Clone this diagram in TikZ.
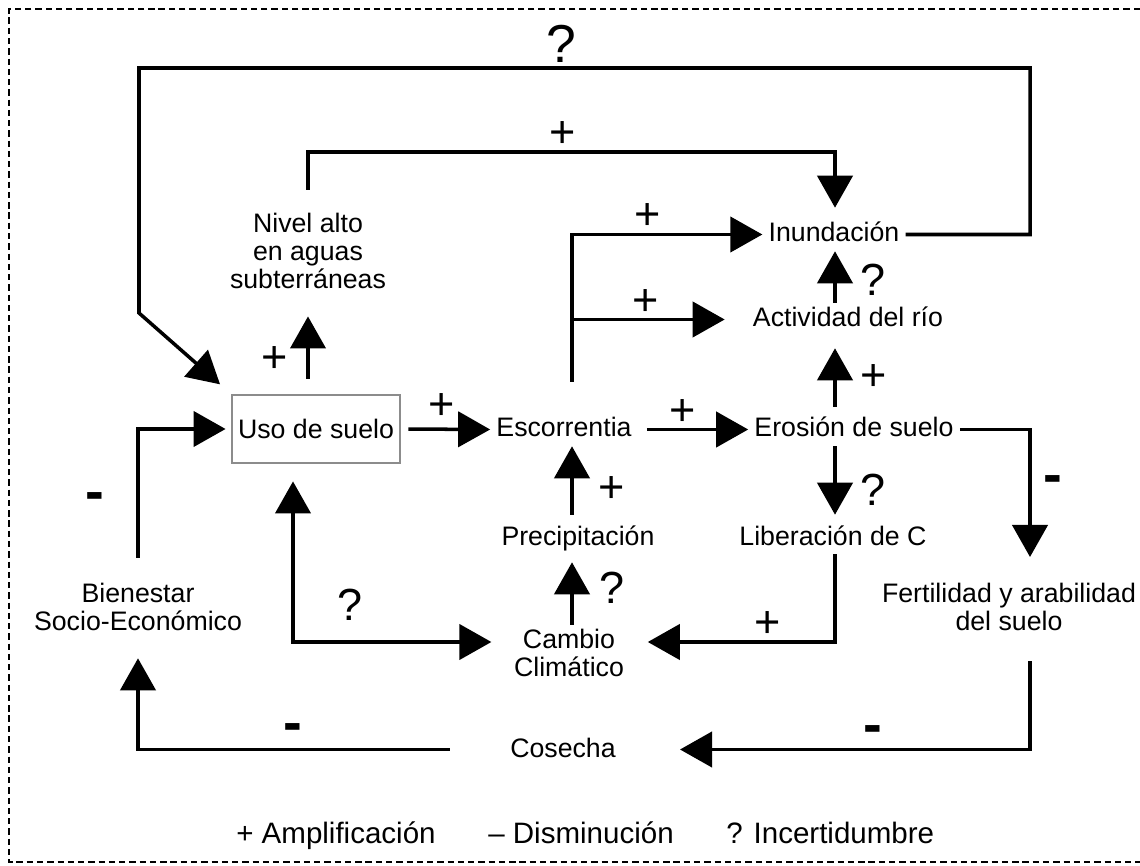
\documentclass[tikz,border=0pt]{standalone}
\usepackage{fontspec}
\setmainfont{Liberation Sans}
\usetikzlibrary{arrows.meta}

\begin{document}
\begin{tikzpicture}[x=0.025cm,y=-0.025cm,
  lbl/.style={font=\fontsize{19}{20}\selectfont, inner xsep=0.15cm, inner ysep=0pt, text height=0.6cm, text depth=0.225cm, anchor=base},
  lbltwo/.style={font=\fontsize{19}{20}\selectfont, align=center, inner xsep=0.15cm, inner ysep=0pt, anchor=north},
  sgn/.style={font=\fontsize{32}{32}\selectfont, inner sep=0pt},
  neg/.style={font=\fontsize{40}{40}\selectfont\bfseries, inner sep=0pt},
  legend/.style={font=\fontsize{21}{22}\selectfont, inner sep=0pt, anchor=base west},
  ln/.style={line width=2.5pt},
  arr/.style={ln, -{Triangle[length=0.8cm,width=0.88cm]}}]

\useasboundingbox (0,0) rectangle (1140,866);

% Dashed frame
\draw[line width=1.4pt, dash pattern=on 4.5pt off 2.8pt] (1140,9) -- (9,9) -- (9,862) -- (1140,862);

  % Define the positions of the variables
  \node[lbl] (inund) at (834,242) {Inundación};
  \node[lbl] (act) at (848,327) {Actividad del río};
  \node[lbl] (eros) at (854,437) {Erosión de suelo};
  \node[lbl] (lib) at (833,545) {Liberación de C};
  \node[lbl] (esc) at (564,437) {Escorrentia};
  \node[lbl] (prec) at (578,545) {Precipitación};
  \node[lbl] (cos) at (563,757) {Cosecha};
  \node[lbltwo] (nivel) at (308,213) {Nivel alto\\en aguas\\subterráneas};
  \node[lbltwo] (bien) at (138,583) {Bienestar\\Socio-Económico};
  \node[lbltwo] (cambio) at (569,629) {Cambio\\Climático};
  \node[lbltwo] (fert) at (1009,583) {Fertilidad y arabilidad\\del suelo};
  \node[draw=black!45, line width=2pt, minimum width=4.2cm, minimum height=1.7cm, inner sep=0pt,
        font=\fontsize{19}{20}\selectfont] (uso) at (316,429) {Uso de suelo};

  % Bends of the loops
  \coordinate (loopNE) at (1030,68);
  \coordinate (loopSW) at (139,313);
  \coordinate (topNE) at (835,152);
  \coordinate (brX) at (572,382);
  \coordinate (colX) at (835,0);
  \coordinate (climY) at (0,642);
  \coordinate (quesX) at (293,0);
  \coordinate (fertC) at (1030,756);

  % Draw the connectors
  \draw[arr, shorten >=0.35cm] (inund.east) -| (loopNE) -| (loopSW) -- (uso.north west);
  \draw[arr, shorten <=0.575cm] (nivel.north) |- (topNE) -- ([yshift=0.25cm]inund.north -| topNE);
  \draw[arr, shorten <=0.175cm] (uso.east) -- (esc.west);
  \draw[arr, shorten <=0.225cm] (esc.east) -- (eros.west);
  \draw[arr, shorten <=0.775cm] (esc.north -| brX) |- (inund.west);
  \draw[arr, shorten >=0.55cm] (brX |- act.west) -- (act.west);
  \draw[arr] (act.north -| colX) -- (inund.south -| colX);
  \draw[arr, shorten <=0.15cm, shorten >=0.3cm] (eros.north -| colX) -- (act.south -| colX);
  \draw[arr, shorten >=0.15cm] (eros.south -| colX) -- (lib.north -| colX);
  \draw[arr, shorten >=0.44cm] (lib.south -| colX) |- (cambio.east |- climY);
  \draw[arr, shorten >=0.65cm] (eros.east) -| (fert.north -| fertC);
  \draw[arr, shorten <=0.75cm, shorten >=1.45cm] (fert.south -| fertC) |- (cos.east);
  \draw[arr, shorten <=1.35cm, shorten >=0.675cm] (cos.west) -| (bien.south);
  \draw[arr, shorten <=0.625cm, shorten >=0.125cm] (bien.north) |- (uso.west);
  \draw[arr, shorten <=0.375cm, shorten >=0.675cm] (uso.north -| nivel.south) -- (nivel.south);
  \draw[ln, {Triangle[length=0.8cm,width=0.88cm]}-{Triangle[length=0.8cm,width=0.88cm]},
        shorten <=0.425cm, shorten >=0.41cm] (uso.south -| quesX) |- (cambio.west |- climY);
  \draw[arr, shorten <=0.15cm] (prec.north -| brX) -- (esc.south -| brX);
  \draw[arr, shorten <=0.1cm, shorten >=0.2cm] (cambio.north -| brX) -- (prec.south -| brX);

  % Signs on the connectors
  \foreach \px/\py [count=\i] in {563/135, 648/217, 646/303, 874/378, 683/413, 442/407, 275/360, 768/625, 612/490} {
    \node[sgn] (plus\i) at (\px,\py) {+};
  }
  \foreach \px/\py [count=\i] in {873/280, 873/490, 612/588, 350/605} {
    \node[sgn] (ques\i) at (\px,\py) {?};
  }
  \foreach \px/\py [count=\i] in {1053/485, 95/502, 293/733, 873/735} {
    \node[neg] (minus\i) at (\px,\py) {-};
  }
  \node[sgn, font=\fontsize{38}{38}\selectfont] (quesTop) at (561,44) {?};

  % Legend
  \node[legend] (legA) at (236,843) {+ Amplificación};
  \node[legend] (legD) at (488,843) {– Disminución};
  \node[legend] (legI) at (726,843) {? Incertidumbre};
\end{tikzpicture}
\end{document}
